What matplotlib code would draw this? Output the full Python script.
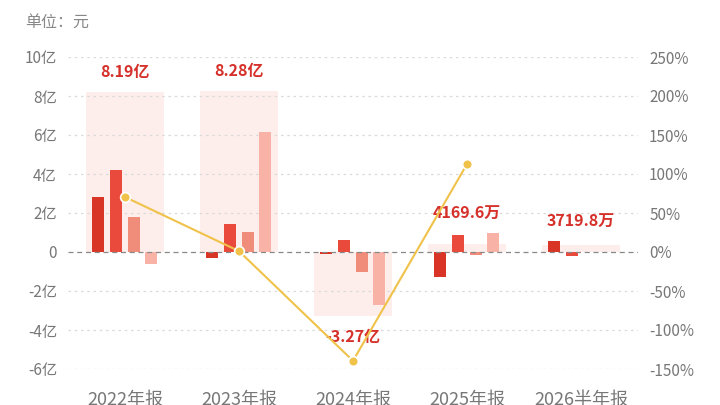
import matplotlib
matplotlib.use("Agg")
import matplotlib.pyplot as plt
import numpy as np

plt.rcParams['font.family'] = ['Noto Sans CJK SC', 'DejaVu Sans']

categories = ["2022年报", "2023年报", "2024年报", "2025年报", "2026半年报"]
# quarterly values (亿元), None = not present
q1 = [2.80, -0.32, -0.12, -1.28, 0.55]
q2 = [4.20, 1.42, 0.60, 0.88, -0.18]
q3 = [1.78, 1.02, -1.05, -0.17, None]
q4 = [-0.59, 6.16, -2.70, 0.99, None]
totals = [8.19, 8.28, -3.27, 0.41696, 0.37198]
growth = [70.5, 1.1, -139.5, 112.7, None]  # %

left_ticks = [-6, -4, -2, 0, 2, 4, 6, 8, 10]
left_labels = ["-6亿", "-4亿", "-2亿", "0", "2亿", "4亿", "6亿", "8亿", "10亿"]
right_ticks = [-150, -100, -50, 0, 50, 100, 150, 200, 250]
right_labels = ["-150%", "-100%", "-50%", "0%", "50%", "100%", "150%", "200%", "250%"]

bar_colors = ["#D93526", "#EA4A3B", "#F08C7A", "#F9B3A6"]
shade_color = "#FEEEEB"
label_red = "#D6302A"
tick_gray = "#777777"
line_color = "#F0C24A"

fig = plt.figure(figsize=(7.2, 4.05), dpi=100)
ax = fig.add_axes([68/720, 1-369/405, 570/720, 312/405])
x = np.arange(len(categories))

ax.set_xlim(-0.5, len(categories) - 0.5)
ax.set_ylim(-6, 10)

# shaded total bars
ax.bar(x, totals, width=0.684, color=shade_color, zorder=1)

# grid
for t in left_ticks:
    if t == 0:
        continue
    ax.axhline(t, color="#DADADA", lw=0.9, ls=(0, (2, 3)), zorder=1.5)
ax.axhline(0, color="#888888", lw=0.9, ls=(0, (4, 3)), zorder=3)

offsets = [-0.235, -0.079, 0.079, 0.232]
series = [q1, q2, q3, q4]
for s, off, c in zip(series, offsets, bar_colors):
    xs = [xi + off for xi, v in zip(x, s) if v is not None]
    vs = [v for v in s if v is not None]
    ax.bar(xs, vs, width=0.105, color=c, zorder=2)

# total labels
px_per_unit = 19.5
for i, tot in enumerate(totals):
    vals = [s[i] for s in series if s[i] is not None] + [tot]
    if abs(tot) >= 1:
        txt = f"{tot:.2f}亿"
    else:
        txt = f"{tot*10000:.1f}万"
    if tot >= 0:
        y = max(vals) + 20 / px_per_unit
    else:
        y = min(vals) - 21 / px_per_unit
    ax.text(i, y, txt, ha="center", va="center", color=label_red,
            fontsize=11.5, fontweight="bold", zorder=5)

ax.set_yticks(left_ticks)
ax.set_yticklabels(left_labels)
ax.set_xticks(x)
ax.set_xticklabels(categories)
ax.tick_params(axis="y", length=0, pad=8, labelsize=11, labelcolor=tick_gray)
ax.tick_params(axis="x", length=0, pad=16, labelsize=13, labelcolor=tick_gray)
for sp in ax.spines.values():
    sp.set_visible(False)

ax2 = ax.twinx()
ax2.set_ylim(-150, 250)
gx = [xi for xi, g in zip(x, growth) if g is not None]
gv = [g for g in growth if g is not None]
ax2.plot(gx, gv, color=line_color, lw=1.5, marker="o", ms=7,
         mfc=line_color, mec="white", mew=1.2, zorder=6)
ax2.set_yticks(right_ticks)
ax2.set_yticklabels(right_labels)
ax2.tick_params(axis="y", length=0, pad=8, labelsize=11, labelcolor=tick_gray)
for sp in ax2.spines.values():
    sp.set_visible(False)

fig.text(25/720, 1-22/405, "单位：元", ha="left", va="center", fontsize=11.5, color="#888888")

fig.savefig("out.png", dpi=100)
